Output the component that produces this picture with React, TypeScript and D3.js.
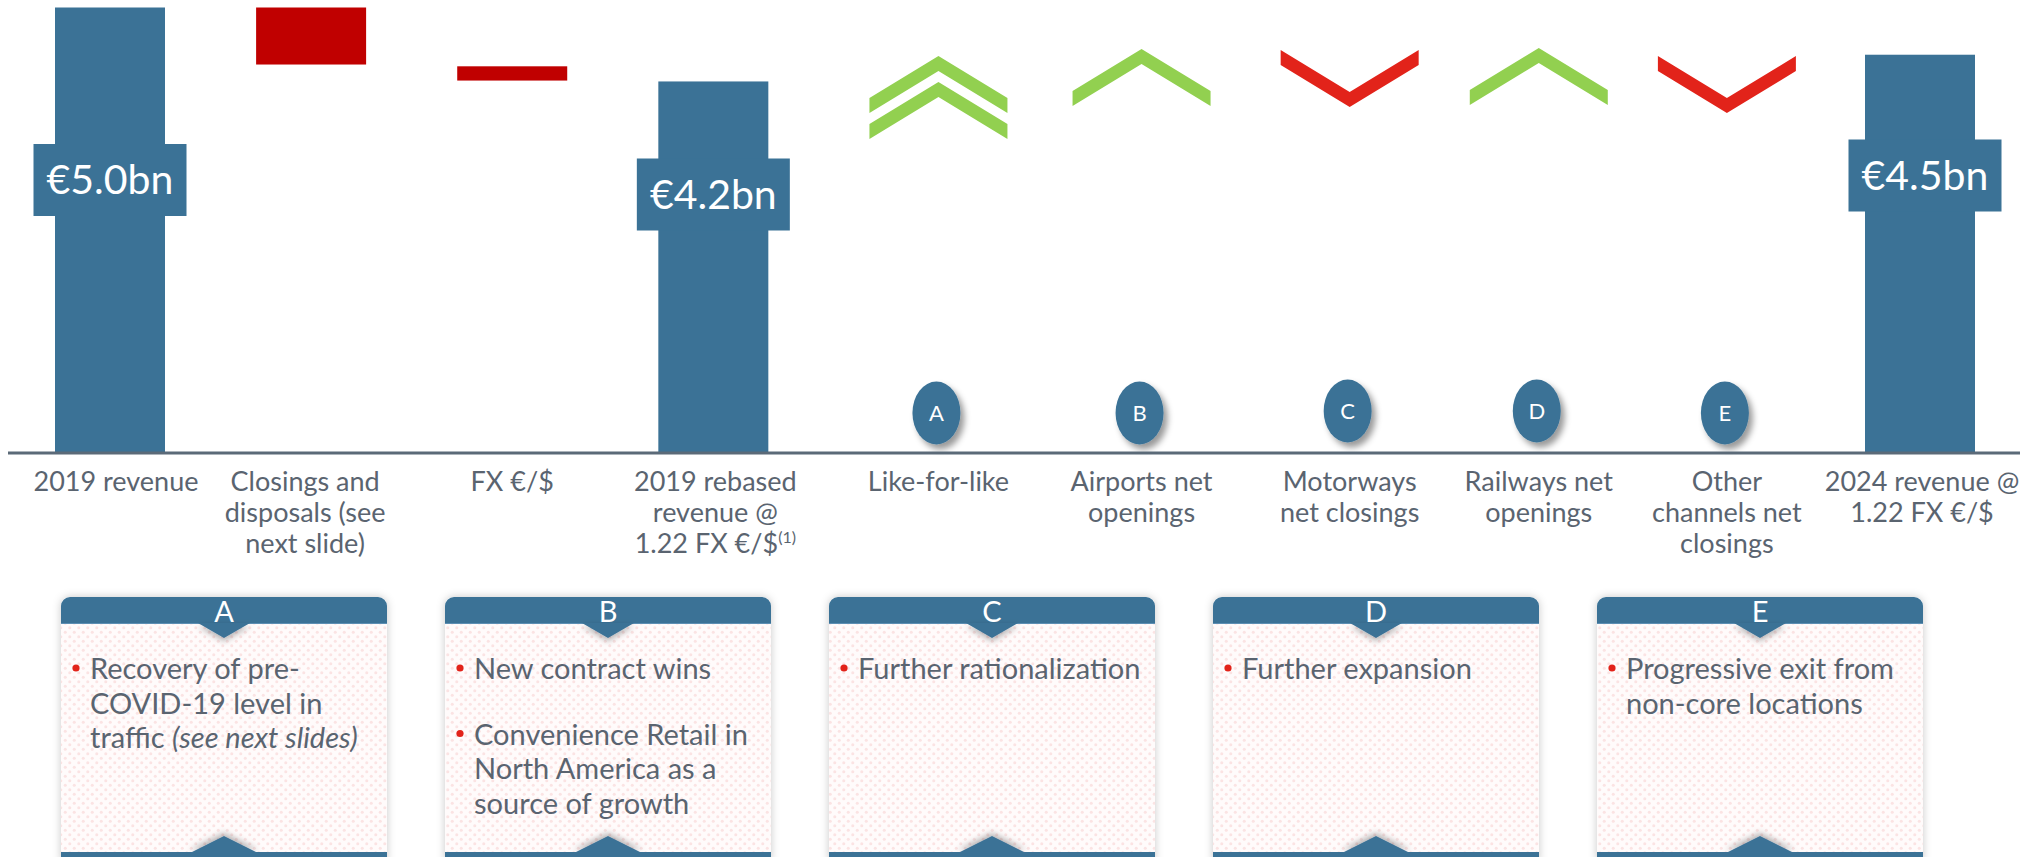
import React from "react";
import * as d3 from "d3";

// ---------- DATA ----------
const categories = [
  "2019 revenue",
  "Closings and disposals (see next slide)",
  "FX €/$",
  "2019 rebased revenue @ 1.22 FX €/$",
  "Like-for-like",
  "Airports net openings",
  "Motorways net closings",
  "Railways net openings",
  "Other channels net closings",
  "2024 revenue @ 1.22 FX €/$",
];
const categoryLines = [
  ["2019 revenue"],
  ["Closings and", "disposals (see", "next slide)"],
  ["FX €/$"],
  ["2019 rebased", "revenue @", "1.22 FX €/$^(1)"],
  ["Like-for-like"],
  ["Airports net", "openings"],
  ["Motorways", "net closings"],
  ["Railways net", "openings"],
  ["Other", "channels net", "closings"],
  ["2024 revenue @", "1.22 FX €/$"],
];

const totalKeys = [categories[0], categories[3], categories[9]];
const totalValues = [5.0, 4.17, 4.47];
const totalLabels = ["€5.0bn", "€4.2bn", "€4.5bn"];

const stepKeys = [categories[1], categories[2]];
const stepStart = [5.0, 4.34];
const stepEnd = [4.36, 4.18];

const driverKeys = categories.slice(4, 9);
const driverDirection = ["up2", "up", "down", "up", "down"];
const driverLetters = ["A", "B", "C", "D", "E"];

const boxLetters = ["A", "B", "C", "D", "E"];
const boxBullets = [
  [["Recovery of pre-", "COVID-19 level in", "traffic _(see next slides)_"]],
  [["New contract wins"], ["Convenience Retail in", "North America as a", "source of growth"]],
  [["Further rationalization"]],
  [["Further expansion"]],
  [["Progressive exit from", "non-core locations"]],
];

// ---------- LAYOUT / STYLE ----------
const W = 2036;
const H = 857;
const BLUE = "#3b7296";
const DARK_RED = "#c00000";
const RED = "#e2231a";
const GREEN = "#92d050";
const TEXT = "#5a6470";
const FONT = "Lato, 'Noto Sans', sans-serif";
const BAR_W = 110;
const AXIS_Y = 453;

const driverOffset = [24, 26, 33, 21, 8];
const chevronTop = [56, 49, 50, 48, 56];
const circleY = [413, 413, 411, 411, 413];
const valueLabelCY = [180, 194.5, 175.5];
const valueLabelDX = [0, 0, 5];
const labelDX = [6, -6, 0, 2, 0, 0, 0, 0, 0, 2];

const x = d3.scalePoint<string>().domain(categories).range([110, 1920]);
const y = d3.scaleLinear().domain([0, 5]).range([AXIS_Y, 7.5]);

const CH_HW = 69;
const CH_ARM = 42;
const CH_T = 15;

function upChevron(cx: number, ay: number) {
  const p = d3.path();
  p.moveTo(cx, ay);
  p.lineTo(cx + CH_HW, ay + CH_ARM);
  p.lineTo(cx + CH_HW, ay + CH_ARM + CH_T);
  p.lineTo(cx, ay + CH_T);
  p.lineTo(cx - CH_HW, ay + CH_ARM + CH_T);
  p.lineTo(cx - CH_HW, ay + CH_ARM);
  p.closePath();
  return p.toString();
}
function downChevron(cx: number, ty: number) {
  const p = d3.path();
  p.moveTo(cx - CH_HW, ty);
  p.lineTo(cx, ty + CH_ARM);
  p.lineTo(cx + CH_HW, ty);
  p.lineTo(cx + CH_HW, ty + CH_T);
  p.lineTo(cx, ty + CH_ARM + CH_T);
  p.lineTo(cx - CH_HW, ty + CH_T);
  p.closePath();
  return p.toString();
}

function renderLine(line: string, key: string) {
  // "_..._" = italic, "^..." = superscript
  const parts: React.ReactNode[] = [];
  const sup = line.split("^");
  const main = sup[0];
  const segs = main.split("_");
  segs.forEach((s, i) => {
    if (!s) return;
    parts.push(
      <tspan key={key + "s" + i} fontStyle={i % 2 === 1 ? "italic" : "normal"}>
        {s}
      </tspan>
    );
  });
  if (sup.length > 1) {
    parts.push(
      <tspan key={key + "sup"} fontSize={16} dy={-10}>
        {sup[1]}
      </tspan>
    );
  }
  return parts;
}

const BOX_X0 = 61;
const BOX_STEP = 384;
const BOX_W = 326;
const BOX_TOP = 597;
const HEAD_B = 624;
const BODY_B = 852;

export default function App() {
  return (
    <div>
      <style>{`html,body{margin:0;padding:0;overflow:hidden;background:#fff;}`}</style>
      <svg
        width={W}
        height={H}
        viewBox={`0 0 ${W} ${H}`}
        style={{ position: "absolute", left: 0, top: 0, display: "block" }}
        fontFamily={FONT}
      >
        <defs>
          <pattern id="dots" width="9" height="9" patternUnits="userSpaceOnUse">
            <rect width="9" height="9" fill="#fffbfb" />
            <circle cx="2.25" cy="2.25" r="1.5" fill="#fbe3e3" />
            <circle cx="6.75" cy="6.75" r="1.5" fill="#fbe3e3" />
          </pattern>
          <filter id="boxShadow" x="-10%" y="-10%" width="120%" height="120%">
            <feDropShadow dx="0" dy="0" stdDeviation="4" floodColor="#000" floodOpacity="0.22" />
          </filter>
          <filter id="circShadow" x="-40%" y="-40%" width="190%" height="190%">
            <feDropShadow dx="4" dy="5" stdDeviation="3" floodColor="#000" floodOpacity="0.4" />
          </filter>
          <filter id="notchDown" x="-50%" y="-50%" width="200%" height="250%">
            <feDropShadow dx="0" dy="3" stdDeviation="3" floodColor="#000" floodOpacity="0.3" />
          </filter>
          <filter id="notchUp" x="-50%" y="-150%" width="200%" height="250%">
            <feDropShadow dx="0" dy="-3" stdDeviation="3" floodColor="#000" floodOpacity="0.3" />
          </filter>
        </defs>

        {/* total bars */}
        {totalKeys.map((k, i) => {
          const cx = x(k)!;
          const lx = cx + valueLabelDX[i];
          return (
            <g key={"tot" + i}>
              <rect x={cx - BAR_W / 2} y={y(totalValues[i])} width={BAR_W} height={y(0) - y(totalValues[i])} fill={BLUE} />
              <rect x={lx - 76.5} y={valueLabelCY[i] - 36} width={153} height={72} fill={BLUE} />
              <text x={lx} y={valueLabelCY[i] + 14} textAnchor="middle" fill="#fff" fontSize={41}>
                {totalLabels[i]}
              </text>
            </g>
          );
        })}

        {/* step (decrease) bars */}
        {stepKeys.map((k, i) => {
          const cx = x(k)!;
          return (
            <rect
              key={"st" + i}
              x={cx - BAR_W / 2}
              y={y(stepStart[i])}
              width={BAR_W}
              height={y(stepEnd[i]) - y(stepStart[i])}
              fill={DARK_RED}
            />
          );
        })}

        {/* driver chevrons + circles */}
        {driverKeys.map((k, i) => {
          const cx = x(k)! + driverOffset[i];
          const dir = driverDirection[i];
          const t = chevronTop[i];
          return (
            <g key={"dr" + i}>
              {dir === "up2" && (
                <>
                  <path d={upChevron(cx, t)} fill={GREEN} />
                  <path d={upChevron(cx, t + 26)} fill={GREEN} />
                </>
              )}
              {dir === "up" && <path d={upChevron(cx, t)} fill={GREEN} />}
              {dir === "down" && <path d={downChevron(cx, t)} fill={RED} />}
              <ellipse cx={cx - 2} cy={circleY[i]} rx={24} ry={31.5} fill={BLUE} filter="url(#circShadow)" />
              <text x={cx - 2} y={circleY[i] + 8} textAnchor="middle" fill="#fff" fontSize={22}>
                {driverLetters[i]}
              </text>
            </g>
          );
        })}

        {/* axis line */}
        <line x1={8} x2={2020} y1={AXIS_Y} y2={AXIS_Y} stroke="#5b6a78" strokeWidth={3} />

        {/* category labels */}
        {categories.map((c, i) => {
          const di = driverKeys.indexOf(c);
          const cx = x(c)! + (di >= 0 ? driverOffset[di] : 0) + labelDX[i];
          return (
            <text key={"cl" + i} x={cx} textAnchor="middle" fill={TEXT} fontSize={27}>
              {categoryLines[i].map((ln, j) => (
                <tspan key={j} x={cx} y={491 + j * 31}>
                  {renderLine(ln, "c" + i + "_" + j)}
                </tspan>
              ))}
            </text>
          );
        })}

        {/* bottom explanation boxes */}
        {boxLetters.map((L, i) => {
          const bx = BOX_X0 + i * BOX_STEP;
          const cx = bx + BOX_W / 2;
          const r = 9;
          const outline = d3.path();
          outline.moveTo(bx, BODY_B + 10);
          outline.lineTo(bx, BOX_TOP + r);
          outline.arcTo(bx, BOX_TOP, bx + r, BOX_TOP, r);
          outline.lineTo(bx + BOX_W - r, BOX_TOP);
          outline.arcTo(bx + BOX_W, BOX_TOP, bx + BOX_W, BOX_TOP + r, r);
          outline.lineTo(bx + BOX_W, BODY_B + 10);
          outline.closePath();
          const header = d3.path();
          header.moveTo(bx, HEAD_B);
          header.lineTo(bx, BOX_TOP + r);
          header.arcTo(bx, BOX_TOP, bx + r, BOX_TOP, r);
          header.lineTo(bx + BOX_W - r, BOX_TOP);
          header.arcTo(bx + BOX_W, BOX_TOP, bx + BOX_W, BOX_TOP + r, r);
          header.lineTo(bx + BOX_W, HEAD_B);
          header.closePath();
          let lineCount = 0;
          return (
            <g key={"box" + i}>
              <path d={outline.toString()} fill="#fff" filter="url(#boxShadow)" />
              <rect x={bx} y={HEAD_B} width={BOX_W} height={BODY_B - HEAD_B} fill="url(#dots)" />
              <path d={header.toString()} fill={BLUE} />
              <line x1={bx} x2={bx + BOX_W} y1={HEAD_B - 0.5} y2={HEAD_B - 0.5} stroke="#5d8fb3" strokeWidth={1} />
              <path
                d={`M${cx - 26},${HEAD_B - 1} L${cx},${HEAD_B + 14} L${cx + 26},${HEAD_B - 1} Z`}
                fill={BLUE}
                filter="url(#notchDown)"
              />
              <text x={cx} y={HEAD_B - 2} textAnchor="middle" fill="#fff" fontSize={29}>
                {L}
              </text>
              <path
                d={`M${cx - 34},${BODY_B + 1} L${cx},${BODY_B - 16} L${cx + 34},${BODY_B + 1} Z`}
                fill={BLUE}
                filter="url(#notchUp)"
              />
              <rect x={bx} y={BODY_B} width={BOX_W} height={12} fill={BLUE} />
              {boxBullets[i].map((bullet, bi) => {
                const startY = 679 + lineCount * 34.5 + bi * 31;
                lineCount += bullet.length;
                return (
                  <g key={"b" + bi}>
                    <circle cx={bx + 15} cy={startY - 11} r={3.6} fill="#e2231a" />
                    <text fill={TEXT} fontSize={29}>
                      {bullet.map((ln, li) => (
                        <tspan key={li} x={bx + 29} y={startY + li * 34.5}>
                          {renderLine(ln, "b" + i + bi + li)}
                        </tspan>
                      ))}
                    </text>
                  </g>
                );
              })}
            </g>
          );
        })}
      </svg>
    </div>
  );
}
